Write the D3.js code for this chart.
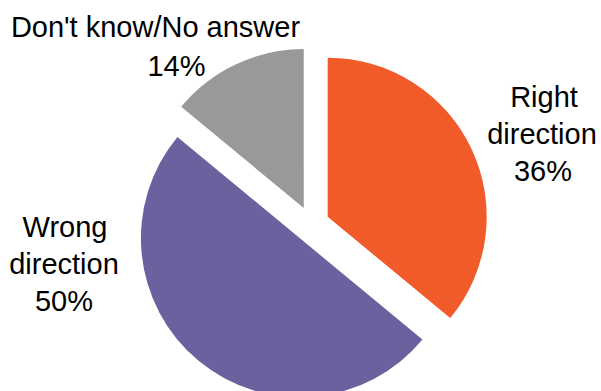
<!DOCTYPE html>
<html><head><meta charset="utf-8">
<script src="https://cdn.jsdelivr.net/npm/d3@7"></script>
<style>body{margin:0;background:#fff}svg{display:block}text{font-family:"Liberation Sans",Arial,sans-serif;font-size:29px;fill:#000}</style>
</head><body><svg id="c" width="601" height="391"></svg>
<script>
const categories = ["Right direction", "Wrong direction", "Don't know/No answer"];
const values = [36, 50, 14];
const colors = ["#F15A29", "#6C619F", "#989998"];
const labelLines = [["Right", "direction", "36%"], ["Wrong", "direction", "50%"], ["Don't know/No answer", "14%"]];

const W = 601, H = 391;
const cx = 311.4, cy = 224.4, r = 159, explode = 18;
const svg = d3.select("#c");
const data = categories.map((c, i) => ({name: c, value: values[i], color: colors[i], lines: labelLines[i]}));
const pie = d3.pie().value(d => d.value).sort(null);
const arc = d3.arc().innerRadius(0).outerRadius(r);
const arcs = pie(data);

const g = svg.append("g").attr("transform", `translate(${cx},${cy})`);
g.selectAll("path").data(arcs).join("path")
  .attr("d", arc)
  .attr("fill", d => d.data.color)
  .attr("transform", d => {
    const a = (d.startAngle + d.endAngle) / 2;
    return `translate(${explode * Math.sin(a)},${-explode * Math.cos(a)})`;
  });

// label anchor positions (centre x per line, first baseline y, line step)
const labelPos = [
  {y: 107, step: 37, xs: [544, 542, 543]},
  {y: 237, step: 37, xs: [65, 64, 64]},
  {y: 37, step: 39, xs: [155.5, 176.5]}
];
arcs.forEach((d, i) => {
  const p = labelPos[i];
  const t = svg.append("text").attr("text-anchor", "middle");
  d.data.lines.forEach((ln, j) => {
    t.append("tspan").attr("x", p.xs[j]).attr("y", p.y + j * p.step).text(ln);
  });
});
</script></body></html>
